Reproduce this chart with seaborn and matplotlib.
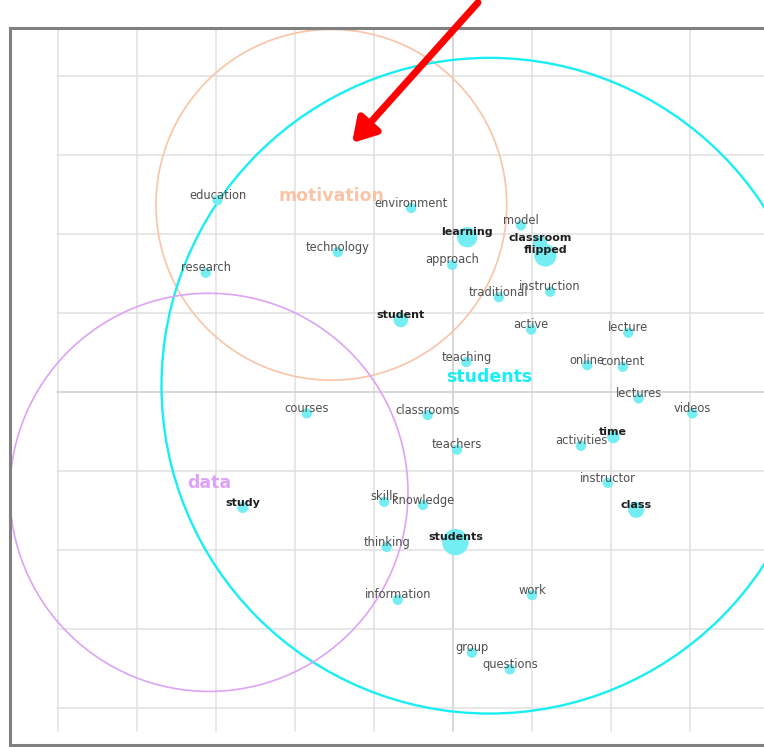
import pandas as pd
import matplotlib.pyplot as plt
from matplotlib.patches import Circle
import seaborn as sns

sns.set_theme(style="white")
plt.rcParams['font.family'] = ['DejaVu Sans']

# term map: word positions (grid units) and frequencies
words = ['education', 'environment', 'technology', 'research', 'learning', 'model',
         'classroom', 'flipped', 'approach', 'traditional', 'instruction', 'student',
         'active', 'lecture', 'teaching', 'online', 'content', 'lectures', 'videos',
         'classrooms', 'courses', 'teachers', 'time', 'activities', 'instructor',
         'class', 'study', 'skills', 'knowledge', 'thinking', 'students',
         'information', 'work', 'group', 'questions']
word_x = [-2.98, -0.53, -1.46, -3.13, 0.18, 0.86, 1.10, 1.17, -0.01, 0.58, 1.23, -0.66,
          0.99, 2.22, 0.17, 1.70, 2.15, 2.35, 3.03, -0.32, -1.85, 0.05, 2.03, 1.62, 1.96,
          2.32, -2.66, -0.87, -0.38, -0.84, 0.03, -0.70, 1.00, 0.24, 0.72]
word_y = [2.43, 2.33, 1.77, 1.51, 1.96, 2.11, 1.89, 1.73, 1.61, 1.20, 1.27, 0.91,
          0.79, 0.75, 0.38, 0.34, 0.32, -0.08, -0.27, -0.29, -0.27, -0.73, -0.57, -0.68,
          -1.15, -1.49, -1.46, -1.39, -1.43, -1.96, -1.90, -2.63, -2.57, -3.30, -3.51]
freq = [8, 8, 8, 8, 39, 8, 18, 48, 8, 8, 8, 18,
        8, 8, 8, 8, 8, 8, 8, 8, 8, 8, 13, 8, 8,
        24, 10, 8, 8, 8, 68, 8, 8, 8, 8]

# topic clusters
clusters = ['motivation', 'students', 'data']
cluster_x = [-1.54, 0.46, -3.09]
cluster_y = [2.37, 0.08, -1.27]
cluster_r = [2.22, 4.15, 2.52]
cluster_colors = ['#F9C4A6', '#19EEF4', '#DDA3F5']

df = pd.DataFrame({'word': words, 'x': word_x, 'y': word_y, 'freq': freq})

fig = plt.figure(figsize=(7.64, 7.47), dpi=100)
ax = fig.add_axes([10 / 764, 2 / 747, 754 / 764, 717 / 747])
ax.set_xlim(-5.608, 3.937)
ax.set_ylim(-4.468, 4.608)

# grid
for gx in range(-5, 4):
    c = '#cdcdcd' if gx == 0 else '#e0e0e0'
    ax.plot([gx, gx], [-4.29, 4.7], color=c, lw=1.1, zorder=0)
for gy in range(-4, 5):
    c = '#cdcdcd' if gy == 0 else '#e0e0e0'
    ax.plot([-5.01, 4.0], [gy, gy], color=c, lw=1.1, zorder=0)

# cluster circles
for name, cx, cy, r, col in zip(clusters, cluster_x, cluster_y, cluster_r, cluster_colors):
    lw = 1.7 if name == 'students' else 1.2
    ax.add_patch(Circle((cx, cy), r, fill=False, edgecolor=col, lw=lw, zorder=2))
    ax.text(cx, cy, name, color=col, fontsize=12.5, fontweight='bold',
            ha='center', va='bottom', zorder=5)

sns.scatterplot(data=df, x='x', y='y', size='freq', sizes=(55, 360),
                color='#74EEF3', linewidth=0, legend=False, ax=ax, zorder=3)

for w, x, y, f in zip(words, word_x, word_y, freq):
    bold = f >= 10
    ax.annotate(w, (x, y), xytext=(0, 3.5), textcoords='offset points',
                ha='center', va='center',
                fontsize=8 if bold else 8.3,
                fontweight='bold' if bold else 'normal',
                color='#1e1e1e' if bold else '#505050', zorder=4)

# red arrow pointing at the motivation cluster
ax.annotate('', xy=(-1.278, 3.152), xytext=(0.316, 4.93),
            arrowprops=dict(arrowstyle='-|>,head_length=0.5,head_width=0.3',
                            color='#FF0000', lw=5, mutation_scale=28,
                            shrinkA=0, shrinkB=0),
            annotation_clip=False, zorder=6)

ax.set_xlabel('')
ax.set_ylabel('')
ax.set_xticks([])
ax.set_yticks([])
for side in ['left', 'top', 'bottom']:
    ax.spines[side].set_color('#808080')
    ax.spines[side].set_linewidth(2.2)
ax.spines['right'].set_visible(False)

plt.savefig('out.png', dpi=100)
